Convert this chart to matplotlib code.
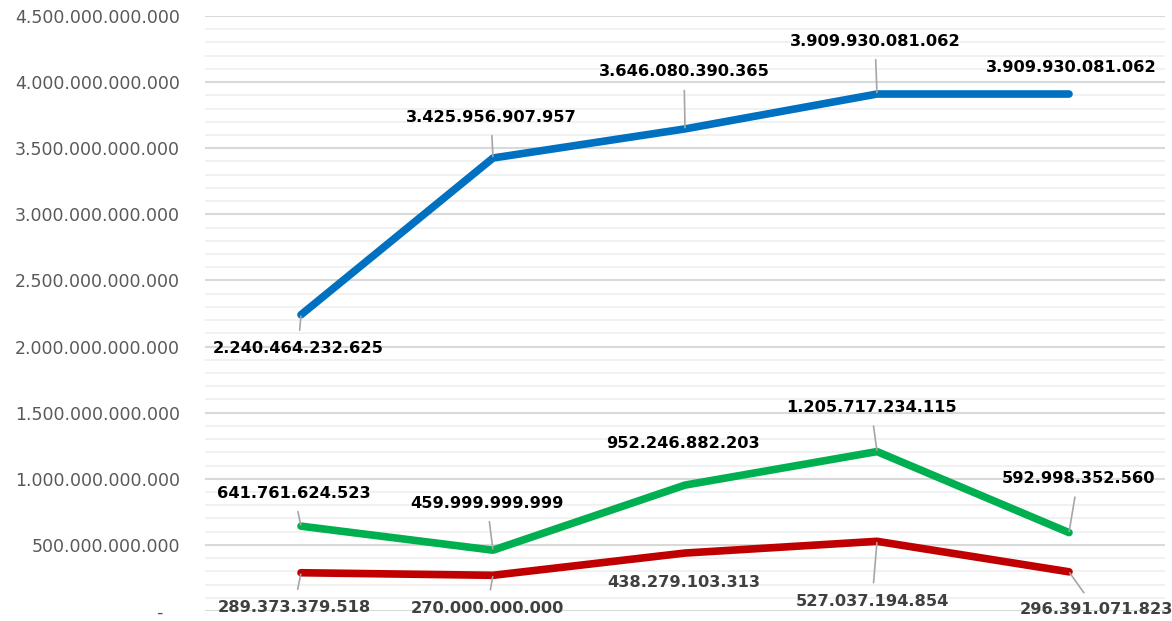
import matplotlib.pyplot as plt
from matplotlib.ticker import MultipleLocator, FuncFormatter

# Data
categories = ['1', '2', '3', '4', '5']
blue_vals = [2240464232625, 3425956907957, 3646080390365, 3909930081062, 3909930081062]
green_vals = [641761624523, 459999999999, 952246882203, 1205717234115, 592998352560]
red_vals = [289373379518, 270000000000, 438279103313, 527037194854, 296391071823]

#label offsets in pixels (dx, dy) and whether to draw a leader line
blue_off = [(-3, -34, True), (-2, 41, True), (-1, 57, True), (-2, 53, True), (2, 27, False)]
green_off = [(-7, 33, True), (-6, 47, True), (-2, 42, False), (-6, 44, True), (9, 54, True)]
red_off = [(-7, -35, True), (-6, -33, True), (-1, -29, False), (-5, -60, True), (27, -38, True)]


def fmt(v, pos):
    if v == 0:
        return '-   '
    return '{:,.0f}'.format(v).replace(',', '.')


def label_series(ax, vals, offs, color):
    for i, (v, (dx, dy, lead)) in enumerate(zip(vals, offs)):
        txt = '{:,}'.format(v).replace(',', '.')
        ap = None
        if lead:
            ap = dict(arrowstyle='-', color='#A6A6A6', lw=1.2, shrinkA=6, shrinkB=1)
        ax.annotate(txt, xy=(i, v), xytext=(dx, dy), textcoords='offset pixels',
                    ha='center', va='center', fontsize=11.7, fontweight='heavy',
                    color=color, family='DejaVu Sans', arrowprops=ap,
                    annotation_clip=False)


def main():
    fig = plt.figure(figsize=(11.72, 6.21), dpi=100)
    ax = fig.add_axes([205 / 1172, 1 - 611 / 621, 960 / 1172, 595 / 621])

    x = list(range(len(categories)))
    ax.plot(x, blue_vals, color='#0070C0', lw=5.5, solid_capstyle='round', solid_joinstyle='round', zorder=3)
    ax.plot(x, green_vals, color='#00B050', lw=5.5, solid_capstyle='round', solid_joinstyle='round', zorder=3)
    ax.plot(x, red_vals, color='#C00000', lw=5.5, solid_capstyle='round', solid_joinstyle='round', zorder=3)

    ax.set_xlim(-0.5, 4.5)
    ax.set_ylim(0, 4.5e12)
    ax.yaxis.set_major_locator(MultipleLocator(5e11))
    ax.yaxis.set_minor_locator(MultipleLocator(1e11))
    ax.yaxis.set_major_formatter(FuncFormatter(fmt))
    ax.grid(which='major', axis='y', color='#D9D9D9', lw=1.5, zorder=0)
    ax.grid(which='minor', axis='y', color='#EFEFEF', lw=1.2, zorder=0)
    ax.set_xticks([])
    ax.tick_params(axis='y', which='both', length=0, pad=18, labelsize=12.5, labelcolor='#595959')
    for s in ax.spines.values():
        s.set_visible(False)

    label_series(ax, blue_vals, blue_off, 'black')
    label_series(ax, green_vals, green_off, 'black')
    label_series(ax, red_vals, red_off, '#404040')

    plt.savefig('out.png')


if __name__ == "__main__":
    main()
